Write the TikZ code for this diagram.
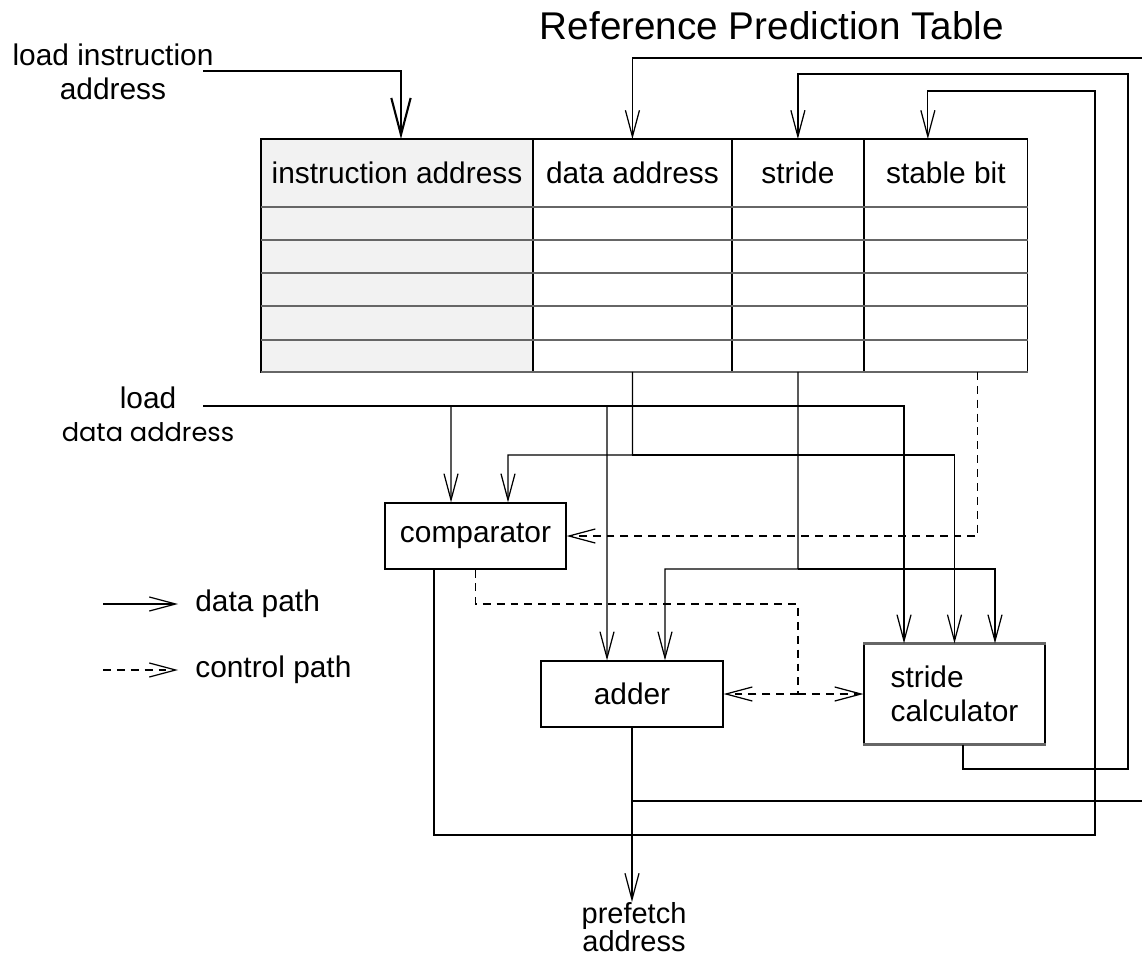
\documentclass[tikz,border=0pt]{standalone}
\usepackage{fontspec}
\setmainfont{Liberation Sans}
\newfontfamily\roundfont{Poppins}
\usetikzlibrary{arrows.meta}

\tikzset{
  datapath/.style={line width=0.7pt, -{Straight Barb[length=15pt,width=8pt]}},
  ctrl/.style={datapath, dash pattern=on 4.5pt off 3.4pt},
  boxnode/.style={draw, line width=0.7pt, minimum width=3.62cm, minimum height=1.32cm, inner sep=0pt},
  hcell/.style={draw, line width=0.7pt, minimum height=1.36cm, inner sep=0pt, outer sep=0pt, anchor=north west},
  rowline/.style={line width=1.3pt, black!60},
}

\begin{document}
\begin{tikzpicture}[x=0.02cm, y=-0.02cm, font=\fontsize{17}{19}\selectfont]
\useasboundingbox (0,0) rectangle (1142,960);

\node[font=\fontsize{22}{26}\selectfont, anchor=base] (title) at (772,39) {Reference Prediction Table};

% the table
\fill[black!5] (261,207) rectangle ++(272,165);
\node[hcell, fill=black!5, minimum width=5.44cm] (ia) at (261,139) {instruction address};
\node[hcell, minimum width=3.98cm] (da) at (ia.north east) {data address};
\node[hcell, minimum width=2.64cm] (st) at (da.north east) {stride};
\node[hcell, minimum width=3.28cm] (sb) at (st.north east) {stable bit};
\node[hcell, minimum width=15.34cm, minimum height=3.3cm] (body) at (ia.south west) {};
\foreach \c in {ia,da,st}
  \draw[line width=0.7pt] (\c.south east) -- (\c.south east |- body.south);
\foreach \y in {207,240,273,306,340,372}
  \draw[rowline] (body.west |- 0,\y) -- (body.east |- 0,\y);

% units
\node[boxnode] (cmp) at (475.5,536) {comparator};
\node[boxnode, minimum width=3.64cm] (add) at (632,694) {adder};
\node[boxnode, minimum height=2cm, align=left] (sc) at (954.5,694) {stride\\calculator};
\draw[rowline] (sc.north west) -- (sc.north east);
\draw[rowline] (sc.south west) -- (sc.south east);

% labels
\node[align=center] (ldi) at (113,72) {load instruction\\address};
\node[align=center] (ldd) at (148,414) {load\\{\roundfont\fontsize{14.6}{17}\selectfont data address}};
\node[align=center, anchor=north, inner sep=0pt, font=\fontsize{16.5}{19}\selectfont] (pf) at (634,902) {prefetch\\[-3pt]address};

% legend
\coordinate (lgd-a) at (103,604);
\coordinate (lgd-b) at (103,670);
\node[anchor=west, inner xsep=0.34cm] (lgdata) at (178,604) {data path};
\node[anchor=west, inner xsep=0.34cm] (lgctrl) at (178,670) {control path};
\draw[datapath] (lgd-a) -- (lgdata);
\draw[ctrl] (lgd-b) -- (lgctrl);

% inputs
\coordinate (ldi-out) at (203,71);
\coordinate (ldd-out) at (203,406);
\draw[line width=1.2pt, -{Straight Barb[length=21pt,width=11pt]}] (ldi-out) -| ([xshift=0.08cm]ia.north);
\draw[datapath] (ldd-out) -| ([xshift=-1.01cm]sc.north);
\draw[datapath] (451,406) -- ([xshift=-0.49cm]cmp.north);
\draw[datapath] (607,406) -- ([xshift=-0.5cm]add.north);

% data address and stride columns
\draw[datapath] (da.south |- body.south) |- (508,455) -- ([xshift=0.65cm]cmp.north);
\draw[datapath] (632,455) -| (sc.north);
\draw[datapath] (st.south |- body.south) |- (665,569) -- ([xshift=0.66cm]add.north);
\draw[datapath] (798,569) -| ([xshift=0.81cm]sc.north);

% control
\draw[ctrl] ([xshift=0.64cm]sb.south |- body.south) |- (cmp.east);
\draw[ctrl, -] (cmp.south) |- (798,604) -- (798,694);
\draw[ctrl] (798,694) -- (add.east);
\draw[ctrl] (798,694) -- (sc.west);

% outputs and feedback
\draw[datapath] (add.south) -- (add.south |- pf.north);
\draw[datapath] (add.south |- 0,801) -- (1145,801) -- (1145,58) -| (da.north);
\draw[datapath] ([xshift=0.17cm]sc.south) |- (1128,769) -- (1128,74) -| (st.north);
\draw[datapath] ([xshift=-0.83cm]cmp.south) |- (1095,835) -- (1095,91) -| ([xshift=-0.36cm]sb.north);
\end{tikzpicture}
\end{document}
